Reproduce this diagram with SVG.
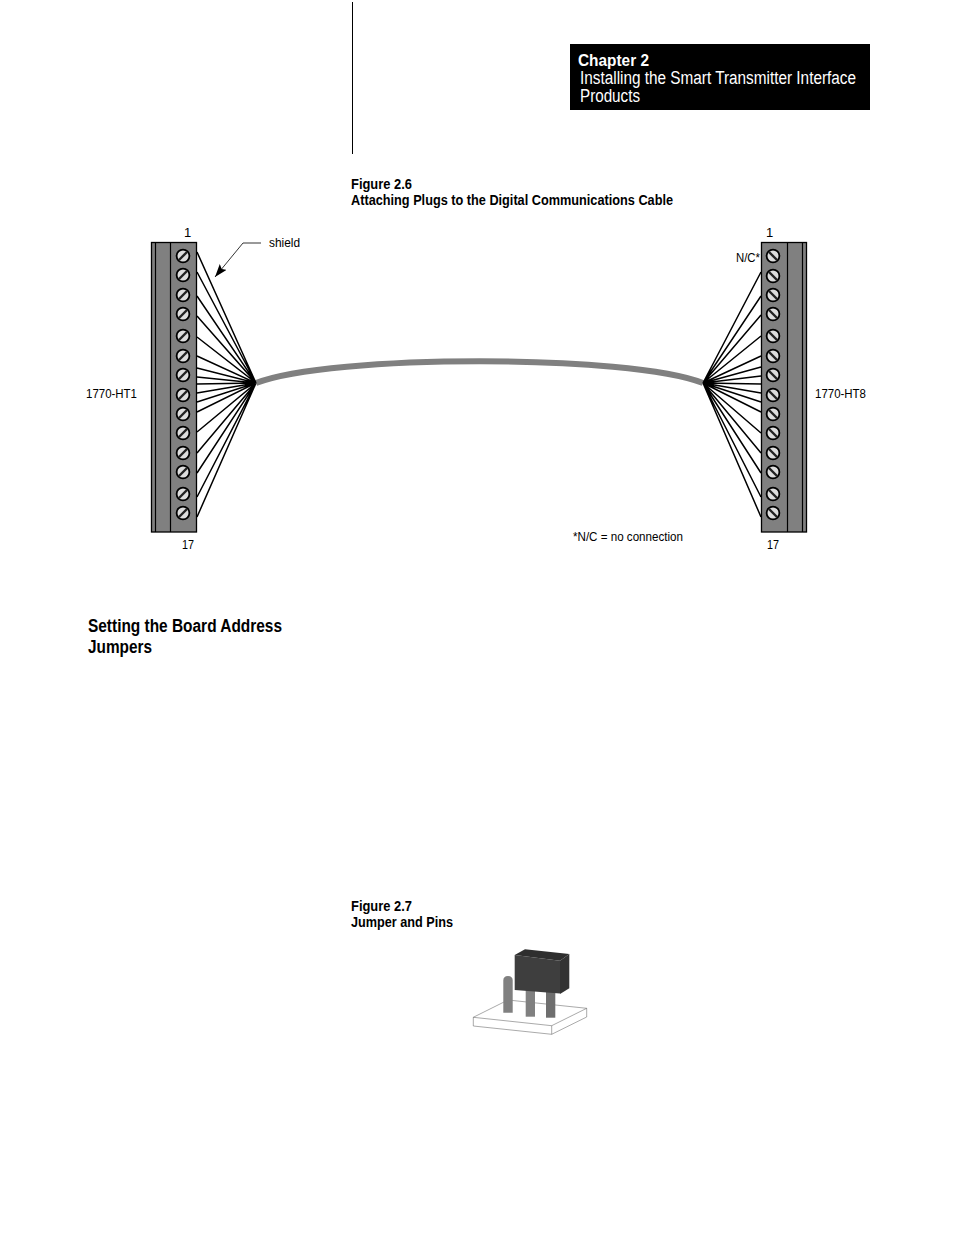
<svg xmlns="http://www.w3.org/2000/svg" width="954" height="1235" viewBox="0 0 954 1235">
<style>
text{font-family:"Liberation Sans",Arial,sans-serif;fill:#000}
.s{font-size:13px}
.b{font-weight:bold}
.w{stroke:#000;stroke-width:1.5;fill:none}
.k{fill:#808080;stroke:#000;stroke-width:1.3}
.l{fill:none;stroke:#000;stroke-width:1.2}
.sc{fill:#ddd;stroke:#000;stroke-width:1.8}
.sl{stroke:#222;stroke-width:2.4}
</style>
<defs>
<g id="scL"><circle class="sc" r="6.4"/><line class="sl" x1="-4" y1="4" x2="4" y2="-4"/></g>
<g id="scR"><circle class="sc" r="6.4"/><line class="sl" x1="-4" y1="-4" x2="4" y2="4"/></g>
<marker id="ah" markerWidth="14" markerHeight="10" refX="13" refY="4.500" orient="auto" markerUnits="userSpaceOnUse"><path d="M0 0L13 4.500L0 9L2.500 4.500Z" fill="#000"/></marker>
</defs>
<rect width="954" height="1235" fill="#fff"/>
<line x1="352.500" y1="2" x2="352.500" y2="154" stroke="#000" stroke-width="1"/>
<g id="header"><rect x="570" y="44" width="300" height="66" fill="#000"/>
<text x="578" y="66" font-size="17" class="b" style="fill:#fff" textLength="71" lengthAdjust="spacingAndGlyphs">Chapter 2</text>
<text x="580" y="84" font-size="18" style="fill:#fff" textLength="276" lengthAdjust="spacingAndGlyphs">Installing the Smart Transmitter Interface</text>
<text x="580" y="102" font-size="18" style="fill:#fff" textLength="60" lengthAdjust="spacingAndGlyphs">Products</text></g>
<g id="fig26-title"><text x="351" y="189" font-size="14" class="b" textLength="61" lengthAdjust="spacingAndGlyphs">Figure 2.6</text>
<text x="351" y="205" font-size="14" class="b" textLength="322" lengthAdjust="spacingAndGlyphs">Attaching Plugs to the Digital Communications Cable</text></g>
<g id="connectors">
<path d="M256 383C330 354 630 354 703 383" fill="none" stroke="#808080" stroke-width="6"/>
<path class="w" d="M256 383L197 252M256 383L197 272M256 383L197 296M256 383L197 316M256 383L197 337M256 383L197 356M256 383L197 368M256 383L197 377M256 383L197 384M256 383L197 393M256 383L197 402M256 383L197 412M256 383L197 432M256 383L197 453M256 383L197 473M256 383L197 497M256 383L197 517"/>
<path class="w" d="M703 383L761 272M703 383L761 296M703 383L761 315M703 383L761 336M703 383L761 356M703 383L761 367M703 383L761 376M703 383L761 384M703 383L761 393M703 383L761 402M703 383L761 412M703 383L761 433M703 383L761 453M703 383L761 473M703 383L761 497M703 383L761 517"/>
<path d="M261 243H243L215 277" fill="none" stroke="#000" stroke-width="0.8" marker-end="url(#ah)"/>
</g>
<g id="block-ht1">
<rect class="k" x="151.500" y="242.500" width="45" height="289.500"/>
<path class="l" d="M155.500 242.500V532M170.500 242.500V532"/>
<use href="#scL" x="183" y="256"/><use href="#scL" x="183" y="275"/><use href="#scL" x="183" y="295"/><use href="#scL" x="183" y="314"/><use href="#scL" x="183" y="336"/><use href="#scL" x="183" y="356"/><use href="#scL" x="183" y="375"/><use href="#scL" x="183" y="395"/><use href="#scL" x="183" y="414"/><use href="#scL" x="183" y="433"/><use href="#scL" x="183" y="453"/><use href="#scL" x="183" y="472"/><use href="#scL" x="183" y="494"/><use href="#scL" x="183" y="513"/>
<text class="s" x="184" y="237">1</text><text class="s" x="182" y="549" textLength="12" lengthAdjust="spacingAndGlyphs">17</text>
<text class="s" x="86" y="398" textLength="51" lengthAdjust="spacingAndGlyphs">1770-HT1</text>
<text class="s" x="269" y="247" textLength="31" lengthAdjust="spacingAndGlyphs">shield</text>
</g>
<g id="block-ht8">
<rect class="k" x="761.500" y="242.500" width="45" height="289.500"/>
<path class="l" d="M787.500 242.500V532M802.500 242.500V532"/>
<use href="#scR" x="773" y="256"/><use href="#scR" x="773" y="276"/><use href="#scR" x="773" y="295"/><use href="#scR" x="773" y="314"/><use href="#scR" x="773" y="336"/><use href="#scR" x="773" y="356"/><use href="#scR" x="773" y="375"/><use href="#scR" x="773" y="395"/><use href="#scR" x="773" y="414"/><use href="#scR" x="773" y="433"/><use href="#scR" x="773" y="453"/><use href="#scR" x="773" y="472"/><use href="#scR" x="773" y="494"/><use href="#scR" x="773" y="513"/>
<text class="s" x="766" y="237">1</text><text class="s" x="767" y="549" textLength="12" lengthAdjust="spacingAndGlyphs">17</text>
<text class="s" x="736" y="262" textLength="24" lengthAdjust="spacingAndGlyphs">N/C*</text>
<text class="s" x="815" y="398" textLength="51" lengthAdjust="spacingAndGlyphs">1770-HT8</text>
<text class="s" x="573" y="541" textLength="110" lengthAdjust="spacingAndGlyphs">*N/C = no connection</text>
</g>
<g id="section-heading"><text x="88" y="632" font-size="18" class="b" textLength="194" lengthAdjust="spacingAndGlyphs">Setting the Board Address</text>
<text x="88" y="653" font-size="18" class="b" textLength="64" lengthAdjust="spacingAndGlyphs">Jumpers</text></g>
<g id="fig27-title"><text x="351" y="911" font-size="14" class="b" textLength="61" lengthAdjust="spacingAndGlyphs">Figure 2.7</text>
<text x="351" y="927" font-size="14" class="b" textLength="102" lengthAdjust="spacingAndGlyphs">Jumper and Pins</text></g>
<g id="jumper">
<path d="M473.300 1017.300L508 1000L586.700 1008.300L551.700 1025.700ZM473.300 1017.300V1026L551.700 1034.300L586.700 1017V1008.300M551.700 1025.700V1034.300" fill="#fff" stroke="#555" stroke-width="0.5"/>
<path d="M503.300 1012.700V980.500Q503.300 976 508 976Q512.700 976 512.700 980.500V1012.700Z" fill="#808080"/>
<rect x="525.700" y="990" width="9.300" height="26.700" fill="#808080"/>
<rect x="546" y="990" width="9.300" height="27.700" fill="#6e6e6e"/>
<path d="M514.700 955L560 960.700V993.500L514.700 990Z" fill="#3e3e3e"/>
<path d="M514.700 955L525 949.300L569.300 954L560 960.700Z" fill="#2e2e2e"/>
<path d="M560 960.700L569.300 954V988.300L560 994Z" fill="#333"/>
</g>
</svg>
